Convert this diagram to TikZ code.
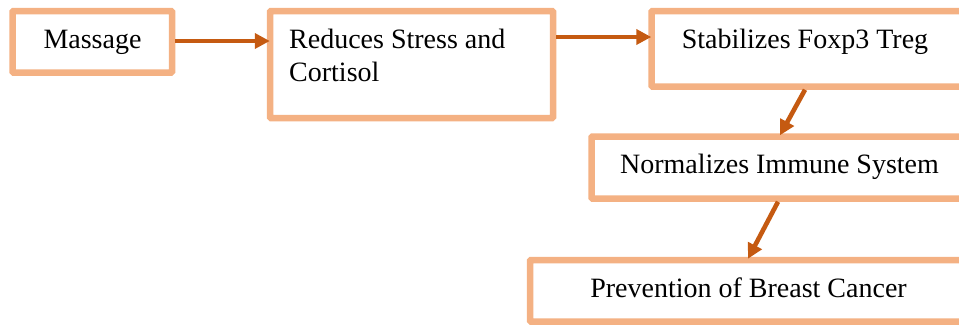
\documentclass[tikz,border=0pt]{standalone}
\usepackage{fontspec}
\setmainfont{Liberation Serif}
\usetikzlibrary{arrows.meta}
\definecolor{boxline}{HTML}{F4B183}
\definecolor{arrline}{HTML}{C55A11}
\tikzset{
  flowbox/.style={draw=boxline, line width=6.5pt, rectangle, inner sep=0pt, anchor=north west, fill=white, rounded corners=1pt},
  lbl/.style={font=\fontsize{28}{33}\selectfont, inner sep=0pt, anchor=base},
  arr/.style={draw=arrline, line width=4.6pt, -{Triangle[length=15pt,width=15pt]}}
}
\begin{document}
\begin{tikzpicture}[x=1pt,y=-1pt]
\useasboundingbox (0,0) rectangle (959,325);
\clip (0,0) rectangle (959,325);
% boxes (placed by their outer corners)
\node[flowbox, minimum width=159.5pt, minimum height=61.5pt] (b1) at (9.25,7.75) {};
\node[flowbox, minimum width=283pt, minimum height=107pt] (b2) at (266.75,7.75) {};
\node[flowbox, minimum width=313.5pt, minimum height=75.5pt] (b3) at (648.25,7.75) {};
\node[flowbox, minimum width=373.5pt, minimum height=62pt] (b4) at (588.25,133.25) {};
\node[flowbox, minimum width=435pt, minimum height=61.5pt] (b5) at (526.75,256.75) {};
% texts
\node[lbl] (t1) at (92.5,48) {Massage};
\node[lbl, anchor=base west] (t2a) at (289,48) {Reduces Stress and};
\node[lbl, anchor=base west] (t2b) at (289,81) {Cortisol};
\node[lbl] (t3) at (805,48) {Stabilizes Foxp3 Treg};
\node[lbl] (t4) at (779.5,173) {Normalizes Immune System};
\node[lbl] (t5) at (748.5,297) {Prevention of Breast Cancer};
% connectors
\draw[arr] (b1.east |- {0,41}) -- ([xshift=3pt]b2.west |- {0,41});
\draw[arr] (b2.east |- {0,37}) -- ([xshift=3pt]b3.west |- {0,37});
\draw[arr] (b3.south -| {805,0}) -- ([yshift=-2pt]b4.north -| {780,0});
\draw[arr] (b4.south -| {778,0}) -- ([yshift=-2pt]b5.north -| {748,0});
\end{tikzpicture}
\end{document}
